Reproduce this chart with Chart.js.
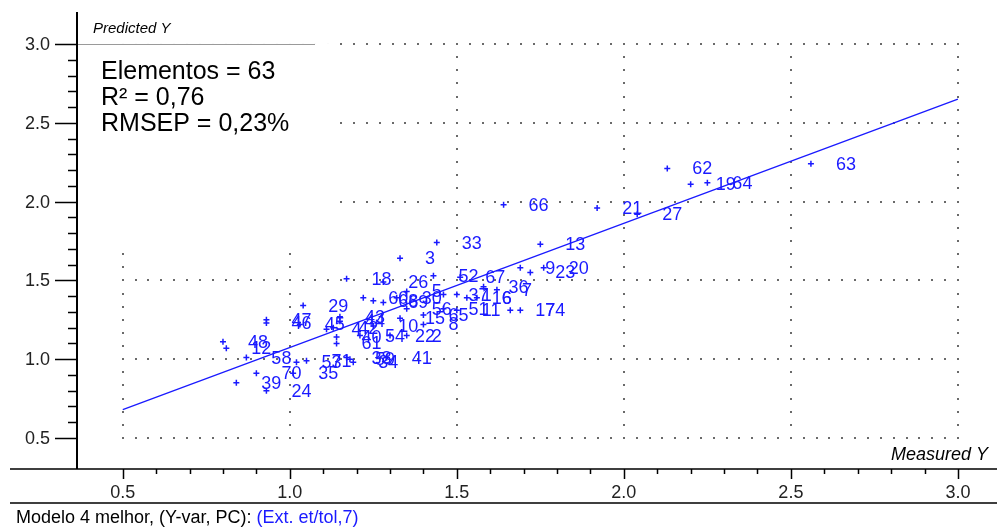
<!DOCTYPE html>
<html>
<head>
<meta charset="utf-8">
<script src="https://cdn.jsdelivr.net/npm/chart.js@4.4.1/dist/chart.umd.min.js"></script>
<style>
  html, body { margin: 0; padding: 0; background: #ffffff; }
  #wrap { width: 997px; height: 528px; }
</style>
</head>
<body>
<div id="wrap"><canvas id="c" width="997" height="528"></canvas></div>
<script>
// Sample identifiers, measured Y and predicted Y
const sampleIds = [
  '63','62','19','64','27','21','66','13','9','23','20','17','74',
  '33','3','52','67','26','18','36','7','29','47','46','48','12',
  '58','70','39','24','35','53','71','45','43','44','4','40','61',
  '54','10','22','2','38','59','34','41','60','68','69','5','8',
  '56','65','51','11','37','16','1','6','30','15','42'
];
const measuredY = [
  2.56,2.13,2.20,2.25,2.04,1.92,1.64,1.75,1.69,1.72,1.76,1.66,1.69,
  1.44,1.33,1.43,1.51,1.28,1.17,1.58,1.62,1.04,0.93,0.93,0.80,0.81,
  0.87,0.90,0.84,0.93,1.01,1.02,1.05,1.03,1.15,1.15,1.11,1.14,1.14,
  1.21,1.25,1.30,1.35,1.17,1.18,1.19,1.29,1.22,1.25,1.28,1.35,1.40,
  1.35,1.40,1.46,1.50,1.46,1.53,1.50,1.56,1.32,1.33,1.13
];
const predictedY = [
  2.24,2.21,2.11,2.12,1.92,1.96,1.98,1.73,1.58,1.55,1.58,1.31,1.31,
  1.74,1.64,1.53,1.52,1.49,1.51,1.46,1.44,1.34,1.25,1.23,1.11,1.07,
  1.01,0.91,0.85,0.80,0.91,0.98,0.99,1.22,1.27,1.24,1.19,1.14,1.10,
  1.15,1.21,1.15,1.15,1.01,1.00,0.98,1.01,1.39,1.37,1.36,1.43,1.22,
  1.32,1.28,1.32,1.31,1.41,1.39,1.41,1.39,1.39,1.26,1.20
];
// Fitted regression line end points
const fitX = [0.5, 3.0];
const fitY = [0.68, 2.65];
// Axis ticks
const majorTicks = [0.5, 1.0, 1.5, 2.0, 2.5, 3.0];
const tickLabels = ['0.5', '1.0', '1.5', '2.0', '2.5', '3.0'];
const statLines = ['Elementos = 63', 'R\u00B2 = 0,76', 'RMSEP = 0,23%'];

const BLUE = '#1a1aff';
const FONT = '"Liberation Sans", Arial, sans-serif';

const points = measuredY.map((v, i) => ({ x: v, y: predictedY[i] }));
const fitLine = fitX.map((v, i) => ({ x: v, y: fitY[i] }));

const framePlugin = {
  id: 'frame',
  beforeDatasetsDraw(chart) {
    const ctx = chart.ctx;
    const xs = chart.scales.x, ys = chart.scales.y;
    const x0 = xs.getPixelForValue(0.5), x1 = xs.getPixelForValue(3.0);
    const y0 = ys.getPixelForValue(0.5), y1 = ys.getPixelForValue(3.0);
    ctx.save();
    ctx.fillStyle = '#6a6a6a';
    // dotted horizontal grid lines
    majorTicks.forEach(v => {
      const y = Math.round(ys.getPixelForValue(v));
      const n = 65;
      for (let k = 0; k <= n; k++) {
        const x = Math.round(x0 + (x1 - x0) * k / n);
        ctx.fillRect(x - 1, y - 1, 2, 2);
      }
    });
    // dotted vertical grid lines
    majorTicks.forEach(v => {
      const x = Math.round(xs.getPixelForValue(v));
      const n = 30;
      for (let k = 0; k <= n; k++) {
        const y = Math.round(y1 + (y0 - y1) * k / n);
        ctx.fillRect(x - 1, y - 1, 2, 2);
      }
    });
    // statistics box
    const area = chart.chartArea;
    ctx.fillStyle = '#ffffff';
    ctx.fillRect(area.left + 1, y1 - 1, 255, 208);
    ctx.strokeStyle = '#9a9a9a';
    ctx.lineWidth = 1;
    ctx.beginPath();
    ctx.moveTo(area.left, Math.round(y1) + 0.5);
    ctx.lineTo(area.left + 238, Math.round(y1) + 0.5);
    ctx.stroke();
    ctx.fillStyle = '#000000';
    ctx.font = '25px ' + FONT;
    ctx.textBaseline = 'alphabetic';
    ctx.textAlign = 'left';
    statLines.forEach((t, i) => ctx.fillText(t, area.left + 24, 79 + i * 26));
    ctx.restore();
  },
  afterDatasetsDraw(chart) {
    const ctx = chart.ctx;
    const meta = chart.getDatasetMeta(0);
    ctx.save();
    ctx.fillStyle = BLUE;
    ctx.font = '18px ' + FONT;
    ctx.textBaseline = 'middle';
    ctx.textAlign = 'left';
    meta.data.forEach((el, i) => {
      ctx.fillText(sampleIds[i], el.x + 25, el.y + 1);
    });
    ctx.restore();
  },
  afterDraw(chart) {
    const ctx = chart.ctx;
    const xs = chart.scales.x, ys = chart.scales.y;
    const area = chart.chartArea;
    ctx.save();
    ctx.strokeStyle = '#000000';
    // y axis
    ctx.lineWidth = 2;
    ctx.beginPath();
    ctx.moveTo(area.left, area.top + 2);
    ctx.lineTo(area.left, area.bottom);
    ctx.stroke();
    // x axis and bottom rule
    ctx.lineWidth = 1.5;
    ctx.beginPath();
    ctx.moveTo(10, area.bottom);
    ctx.lineTo(997, area.bottom);
    ctx.moveTo(10, 503);
    ctx.lineTo(997, 503);
    ctx.stroke();
    // ticks
    ctx.lineWidth = 1.5;
    ctx.beginPath();
    for (let k = 5; k <= 30; k++) {
      const v = k / 10;
      const major = k % 5 === 0;
      const y = Math.round(ys.getPixelForValue(v)) + 0.5;
      ctx.moveTo(area.left - (major ? 22 : 9), y);
      ctx.lineTo(area.left, y);
      const x = Math.round(xs.getPixelForValue(v)) + 0.5;
      ctx.moveTo(x, area.bottom);
      ctx.lineTo(x, area.bottom + (major ? 10 : 5));
    }
    ctx.stroke();
    // tick labels
    ctx.fillStyle = '#222222';
    ctx.font = '18px ' + FONT;
    ctx.textAlign = 'right';
    ctx.textBaseline = 'middle';
    majorTicks.forEach((v, i) => {
      ctx.fillText(tickLabels[i], area.left - 27, ys.getPixelForValue(v) + 1);
    });
    ctx.textAlign = 'center';
    ctx.textBaseline = 'alphabetic';
    majorTicks.forEach((v, i) => {
      ctx.fillText(tickLabels[i], xs.getPixelForValue(v), 498);
    });
    // axis titles
    ctx.fillStyle = '#000000';
    ctx.font = 'italic 15px ' + FONT;
    ctx.textAlign = 'left';
    ctx.fillText('Predicted Y', area.left + 16, 33);
    ctx.textAlign = 'right';
    ctx.font = 'italic 18px ' + FONT;
    ctx.fillText('Measured Y', 988, 460);
    // footer
    ctx.textAlign = 'left';
    ctx.font = '18px ' + FONT;
    const part1 = 'Modelo 4 melhor, (Y-var, PC): ';
    ctx.fillStyle = '#000000';
    ctx.fillText(part1, 16, 523);
    const w = ctx.measureText(part1).width;
    ctx.fillStyle = BLUE;
    ctx.fillText('(Ext. et/tol,7)', 16 + w, 523);
    ctx.restore();
  }
};

new Chart(document.getElementById('c'), {
  type: 'scatter',
  data: {
    datasets: [
      {
        data: points,
        pointStyle: 'cross',
        pointRadius: 3,
        pointBorderWidth: 1.5,
        borderColor: BLUE,
        backgroundColor: BLUE
      },
      {
        type: 'line',
        data: fitLine,
        showLine: true,
        pointRadius: 0,
        borderColor: BLUE,
        borderWidth: 1.3,
        fill: false
      }
    ]
  },
  options: {
    responsive: false,
    animation: false,
    devicePixelRatio: 1,
    layout: { autoPadding: false, padding: { left: 77, right: 0, top: 10, bottom: 59 } },
    plugins: { legend: { display: false }, tooltip: { enabled: false } },
    scales: {
      x: { type: 'linear', min: 0.363, max: 3.117, display: false },
      y: { type: 'linear', min: 0.303, max: 3.216, display: false }
    }
  },
  plugins: [framePlugin]
});
</script>
</body>
</html>
